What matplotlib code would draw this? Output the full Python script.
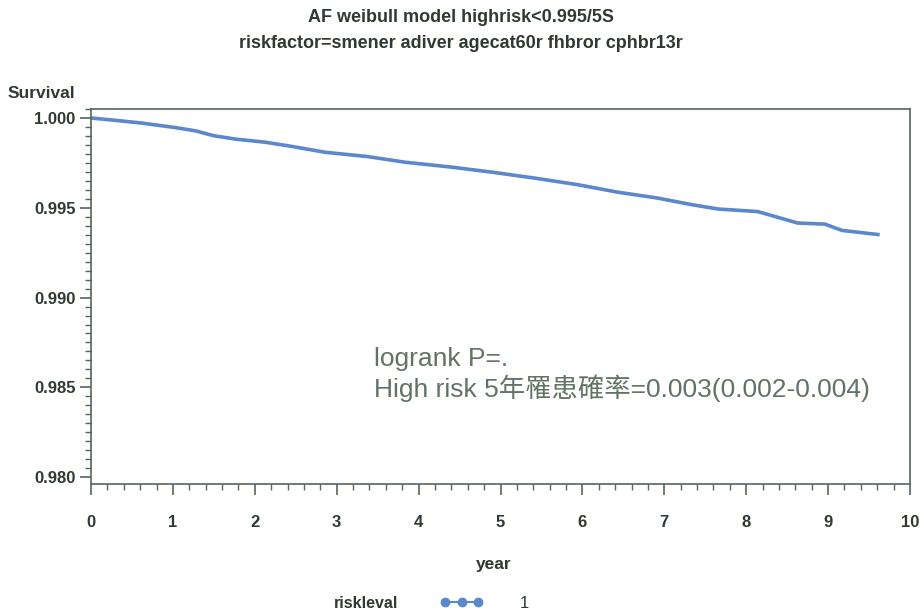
import matplotlib.pyplot as plt
from matplotlib.lines import Line2D
from matplotlib.ticker import MultipleLocator, FormatStrFormatter

# survival curve (year, survival)
years = [0.0, 0.34, 0.63, 1.04, 1.28, 1.49, 1.77, 2.13, 2.46, 2.86, 3.38,
         3.83, 4.41, 4.90, 5.42, 5.95, 6.43, 6.92, 7.34, 7.66, 8.14, 8.63,
         8.96, 9.17, 9.63]
survival = [1.0, 0.99985, 0.99971, 0.99946, 0.99928, 0.99902, 0.99882,
            0.99865, 0.99841, 0.99809, 0.99785, 0.99754, 0.99726, 0.99698,
            0.99665, 0.99628, 0.99587, 0.99554, 0.99517, 0.99493, 0.99479,
            0.99415, 0.99409, 0.99374, 0.99350]
x_ticks = [0, 1, 2, 3, 4, 5, 6, 7, 8, 9, 10]
y_ticks = [0.980, 0.985, 0.990, 0.995, 1.000]

title1 = "AF weibull model highrisk<0.995/5S"
title2 = "riskfactor=smener adiver agecat60r fhbror cphbr13r"
note1 = "logrank P=."
note2 = "High risk 5年罹患確率=0.003(0.002-0.004)"

text_col = "#2f3a30"
frame_col = "#55675a"
line_col = "#5b87cc"
fam = ["Liberation Sans", "Noto Sans CJK TC", "DejaVu Sans"]

fig = plt.figure(figsize=(9.22, 6.16), dpi=100)
ax = fig.add_axes([91 / 922, 1 - 484 / 616, 819 / 922, 375 / 616])

ax.plot(years, survival, color=line_col, lw=2.6, solid_capstyle="butt")

ax.set_xlim(0, 10)
ax.set_ylim(0.97962, 1.0005)
ax.set_xticks(x_ticks)
ax.set_yticks(y_ticks)
ax.xaxis.set_minor_locator(MultipleLocator(0.2))
ax.yaxis.set_minor_locator(MultipleLocator(0.0005))
ax.yaxis.set_major_formatter(FormatStrFormatter("%.3f"))
ax.tick_params(which="major", direction="out", length=8, width=1.2,
               color=frame_col, labelcolor=text_col)
ax.tick_params(which="minor", direction="out", length=4, width=1,
               color=frame_col)
ax.tick_params(axis="x", labelsize=12, pad=14)
ax.tick_params(axis="y", labelsize=12, pad=3)
for lab in ax.get_xticklabels() + ax.get_yticklabels():
    lab.set_fontfamily(fam)
    lab.set_fontweight("bold")
for sp in ax.spines.values():
    sp.set_color(frame_col)
    sp.set_linewidth(1.2)

fig.text(0.5, 1 - 18 / 616, title1, ha="center", va="center", fontsize=13,
         fontweight="bold", color=text_col, family=fam)
fig.text(0.5, 1 - 43 / 616, title2, ha="center", va="center", fontsize=13,
         fontweight="bold", color=text_col, family=fam)
fig.text(8 / 922, 1 - 93 / 616, "Survival", ha="left", va="center",
         fontsize=12.5, fontweight="bold", color=text_col, family=fam)
fig.text(494 / 922, 1 - 565 / 616, "year", ha="center", va="center",
         fontsize=12.5, fontweight="bold", color=text_col, family=fam)

ax.text(0.346, 0.292, note1 + "\n" + note2, transform=ax.transAxes,
        ha="left", va="center", fontsize=19, color="#617463", family=fam,
        linespacing=1.15)

fig.text(398 / 922, 1 - 603 / 616, "riskleval", ha="right", va="center",
         fontsize=11.5, fontweight="bold", color=text_col, family=fam)
handle = Line2D([0], [0], color=line_col, marker="o", markersize=6, lw=1.5,
                markerfacecolor=line_col, markeredgecolor=line_col)
leg = fig.legend([handle], ["1"], loc="center left", numpoints=3,
                 bbox_to_anchor=(425 / 922, 1 - 603 / 616), frameon=False,
                 handlelength=2.6, handletextpad=2.2,
                 prop={"family": fam, "size": 12})
for t in leg.get_texts():
    t.set_color(text_col)

fig.savefig("out.png", dpi=100, facecolor="white")
